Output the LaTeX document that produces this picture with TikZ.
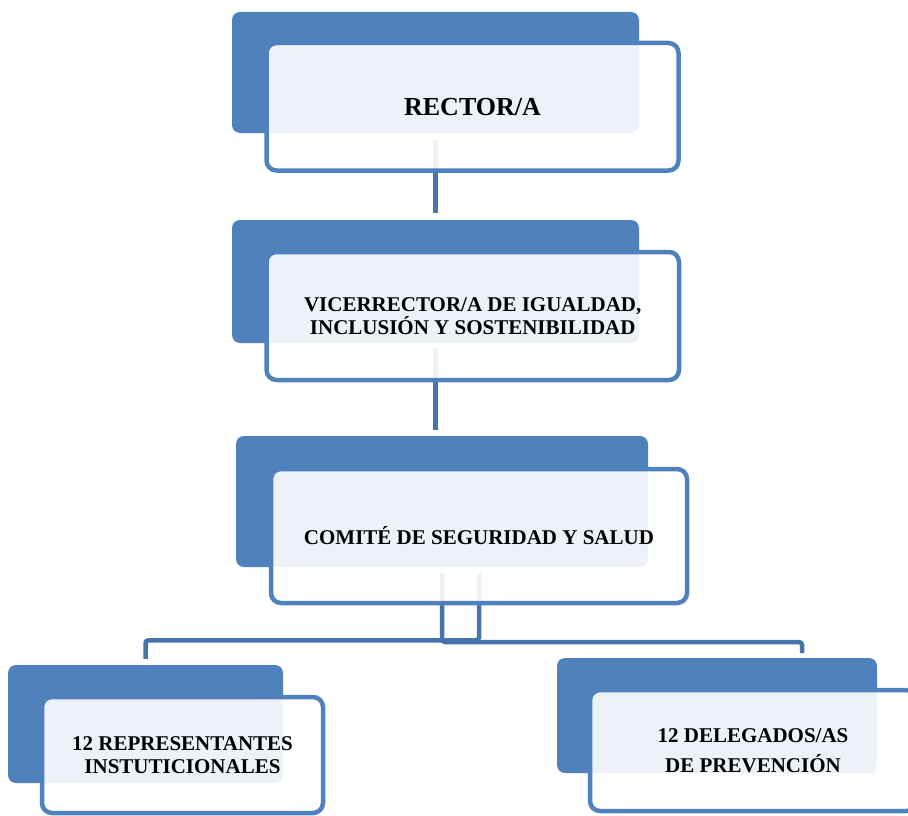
\documentclass[tikz,border=0pt]{standalone}
\usepackage{fontspec}
\setmainfont{Liberation Serif}
\usepackage{tikz}
\usetikzlibrary{calc, backgrounds}
\definecolor{boxblue}{HTML}{4F81BD}
\definecolor{linkblue}{HTML}{4674AB}
\tikzstyle{backbox} = [rectangle, rounded corners=8pt, inner sep=0pt, fill=boxblue]
\tikzstyle{frontbox} = [rectangle, rounded corners=10pt, inner sep=0pt, draw=boxblue, line width=4.5pt, fill=white, fill opacity=0.9, text opacity=1, text=black, align=center, font=\bfseries\fontsize{21}{23}\selectfont]
\tikzstyle{link} = [draw=linkblue, line width=4.5pt, rounded corners=3pt]

\begin{document}
\begin{tikzpicture}[x=1pt, y=-1pt]
    \useasboundingbox (0,0) rectangle (908,816);

    \node (back1) [backbox, minimum width=407pt, minimum height=121pt] at (435.5,72.5) {};
    \node (rector) [frontbox, minimum width=412pt, minimum height=127.5pt, font=\bfseries\fontsize{26}{28}\selectfont] at (472.5,106.75) {RECTOR/A};

    \node (back2) [backbox, minimum width=407pt, minimum height=123pt] at (435.5,281.5) {};
    \node (vice) [frontbox, minimum width=412.5pt, minimum height=128pt] at (472.75,316) {VICERRECTOR/A DE IGUALDAD,\\INCLUSIÓN Y SOSTENIBILIDAD};

    \node (back3) [backbox, minimum width=412pt, minimum height=131pt] at (442,501.5) {};
    \node (comite) [frontbox, minimum width=416pt, minimum height=134pt] at (479,536) {COMITÉ DE SEGURIDAD Y SALUD};

    \node (back4) [backbox, minimum width=275pt, minimum height=118pt] at (145.5,724) {};
    \node (repres) [frontbox, minimum width=281pt, minimum height=116pt] at (182.5,755) {12 REPRESENTANTES\\INSTUTICIONALES};

    \node (back5) [backbox, minimum width=320pt, minimum height=115pt] at (717,715.5) {};
    \node (deleg) [frontbox, minimum width=326pt, minimum height=121pt, font=\bfseries\fontsize{21}{30}\selectfont] at (753,750.5) {12 DELEGADOS/AS\\DE PREVENCIÓN};

    \coordinate (drop5) at (802,653);

    \begin{scope}[on background layer]
        \draw [link] ($(back1.south)+(0,7)$) -- ($(back2.north)+(0,-7)$);
        \draw [link] ($(back2.south)+(0,5)$) -- ($(back2.south |- back3.north)+(0,-6)$);
        \draw [link] ($(back3.south -| comite.center)+(0,6)$) |- ($(back4.north)+(0,-24.5)$) -- ($(back4.north)+(0,-6)$);
        \draw [link] ($(back3.south)+(0,6)$) |- ($(drop5)+(0,-11)$) -- (drop5);
    \end{scope}
\end{tikzpicture}
\end{document}
